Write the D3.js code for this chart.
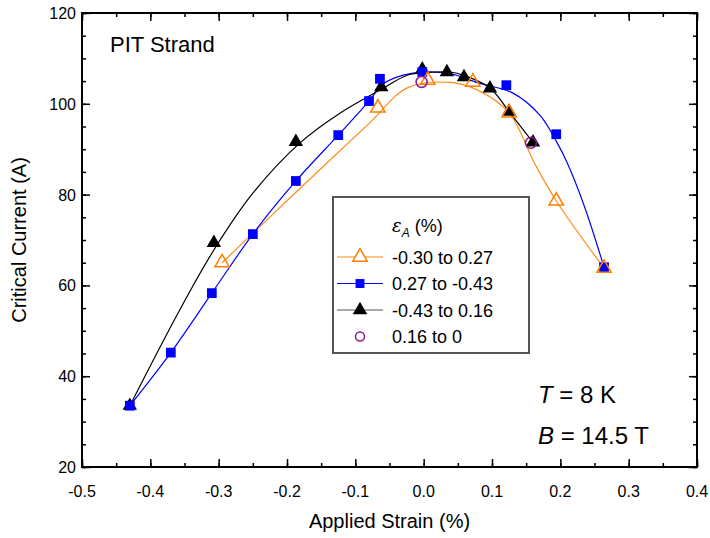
<!DOCTYPE html>
<html>
<head>
<meta charset="utf-8">
<script src="https://cdn.jsdelivr.net/npm/d3@7"></script>
<style>
  body { margin: 0; background: #fff; }
  text { font-family: "Liberation Sans", Arial, sans-serif; fill: #000; }
</style>
</head>
<body>
<div id="chart"></div>
<script>
var orangeX = [-0.295, -0.067, 0.006, 0.072, 0.125, 0.194, 0.264];
var orangeY = [65, 99.1, 105.2, 104.8, 98, 78.6, 63.8];

var blueX = [-0.43, -0.37, -0.31, -0.25, -0.187, -0.125, -0.08, -0.064, -0.002, 0.121, 0.194, 0.264];
var blueY = [33.5, 45.2, 58.3, 71.3, 83, 93.1, 100.6, 105.5, 107, 104.1, 93.3, 64];

var blackX = [-0.43, -0.307, -0.187, -0.062, -0.002, 0.034, 0.059, 0.097, 0.125, 0.16];
var blackY = [33.5, 69.4, 91.6, 103.7, 107.6, 107, 105.9, 103.4, 98.3, 91.5];

var purpleX = [-0.003, 0.157];
var purpleY = [104.8, 91.4];

// fitted curves, also
var orangeFitX = [-0.295, -0.185, -0.079, -0.024, 0.039, 0.082, 0.125, 0.163, 0.194, 0.264];
var orangeFitY = [65, 80.8, 95.8, 103.5, 104.7, 102.8, 98, 86.7, 78.6, 63.8];

var blueFitX = [-0.43, -0.37, -0.31, -0.25, -0.187, -0.125, -0.08, -0.06, -0.03, 0.0, 0.04, 0.08, 0.13, 0.17, 0.195, 0.21, 0.235, 0.264];
var blueFitY = [33.5, 45.2, 58.3, 71.3, 83, 93.1, 100.6, 104.3, 106.3, 107, 106.6, 104.6, 102.4, 97.5, 91.5, 87, 77.5, 64];

var blackFitX = [-0.43, -0.357, -0.307, -0.25, -0.181, -0.122, -0.062, -0.024, 0.0, 0.039, 0.06, 0.097, 0.125, 0.16];
var blackFitY = [33.5, 54.6, 67.8, 80.3, 91.4, 98, 103.2, 106.3, 106.8, 107, 106.2, 103.5, 98.3, 91.5];

var legendLabels = ["-0.30 to 0.27", "0.27 to -0.43", "-0.43 to 0.16", "0.16 to 0"];
var xTicks = [-0.5, -0.4, -0.3, -0.2, -0.1, 0.0, 0.1, 0.2, 0.3, 0.4];
var xTickLabels = ["-0.5", "-0.4", "-0.3", "-0.2", "-0.1", "0.0", "0.1", "0.2", "0.3", "0.4"];
var yTicks = [20, 40, 60, 80, 100, 120];

var svgWidth = 710;
var svgHeight = 538;
var margin = { top: 13, right: 13, bottom: 71, left: 82 };
var width = svgWidth - margin.left - margin.right;
var height = svgHeight - margin.top - margin.bottom;

var svg = d3.select("#chart")
  .append("svg")
  .attr("width", svgWidth)
  .attr("height", svgHeight);

var chartGroup = svg.append("g")
  .attr("transform", `translate(${margin.left}, ${margin.top})`);

var x = d3.scaleLinear().domain([-0.5, 0.4]).range([0, width]);
var y = d3.scaleLinear().domain([20, 120]).range([height, 0]);

// axes: ticks point inward, mirrored on top/right
var xMinor = d3.range(-0.5, 0.4001, 0.05).map(d => +d.toFixed(2));
var yMinor = d3.range(20, 120.1, 5);

function tickStyle(g) {
  g.selectAll("line").attr("stroke", "#000").attr("stroke-width", 1.5);
  g.select(".domain").remove();
}

chartGroup.append("g")
  .attr("transform", `translate(0, ${height})`)
  .call(d3.axisTop(x).tickValues(xMinor).tickSize(4).tickFormat(""))
  .call(tickStyle);
chartGroup.append("g")
  .attr("transform", `translate(0, ${height})`)
  .call(d3.axisTop(x).tickValues(xTicks).tickSize(8).tickFormat(""))
  .call(tickStyle);
chartGroup.append("g")
  .call(d3.axisBottom(x).tickValues(xMinor).tickSize(4).tickFormat(""))
  .call(tickStyle);
chartGroup.append("g")
  .call(d3.axisBottom(x).tickValues(xTicks).tickSize(8).tickFormat(""))
  .call(tickStyle);
chartGroup.append("g")
  .call(d3.axisRight(y).tickValues(yMinor).tickSize(4).tickFormat(""))
  .call(tickStyle);
chartGroup.append("g")
  .call(d3.axisRight(y).tickValues(yTicks).tickSize(8).tickFormat(""))
  .call(tickStyle);
chartGroup.append("g")
  .attr("transform", `translate(${width}, 0)`)
  .call(d3.axisLeft(y).tickValues(yMinor).tickSize(4).tickFormat(""))
  .call(tickStyle);
chartGroup.append("g")
  .attr("transform", `translate(${width}, 0)`)
  .call(d3.axisLeft(y).tickValues(yTicks).tickSize(8).tickFormat(""))
  .call(tickStyle);

// tick labels
chartGroup.selectAll(".xlab")
  .data(xTicks)
  .enter()
  .append("text")
  .attr("x", d => x(d))
  .attr("y", height + 30)
  .attr("text-anchor", "middle")
  .style("font-size", "16px")
  .text((d, i) => xTickLabels[i]);

chartGroup.selectAll(".ylab")
  .data(yTicks)
  .enter()
  .append("text")
  .attr("x", -6)
  .attr("y", d => y(d) + 6)
  .attr("text-anchor", "end")
  .style("font-size", "16px")
  .text(d => d);

// frame
chartGroup.append("rect")
  .attr("width", width)
  .attr("height", height)
  .attr("fill", "none")
  .attr("stroke", "#000")
  .attr("stroke-width", 2);

// fitted curves
var line = d3.line()
  .x(d => x(d[0]))
  .y(d => y(d[1]))
  .curve(d3.curveCatmullRom.alpha(0.5));

var fits = [
  { xs: orangeFitX, ys: orangeFitY, color: "#ff8c1a" },
  { xs: blueFitX, ys: blueFitY, color: "#0000ff" },
  { xs: blackFitX, ys: blackFitY, color: "#000" }
];

fits.forEach(function(f) {
  chartGroup.append("path")
    .datum(d3.zip(f.xs, f.ys))
    .attr("d", line)
    .attr("fill", "none")
    .attr("stroke", f.color)
    .attr("stroke-width", 1.2);
});

// markers
var tri = d3.symbol().type(d3.symbolTriangle).size(90);
var sq = d3.symbol().type(d3.symbolSquare).size(95);

chartGroup.selectAll(".blk")
  .data(d3.zip(blackX, blackY))
  .enter()
  .append("path")
  .attr("d", tri)
  .attr("transform", d => `translate(${x(d[0])}, ${y(d[1])})`)
  .attr("fill", "#000");

chartGroup.selectAll(".blu")
  .data(d3.zip(blueX, blueY))
  .enter()
  .append("path")
  .attr("d", sq)
  .attr("transform", d => `translate(${x(d[0])}, ${y(d[1])})`)
  .attr("fill", "#0000ff");

chartGroup.selectAll(".org")
  .data(d3.zip(orangeX, orangeY))
  .enter()
  .append("path")
  .attr("d", tri)
  .attr("transform", d => `translate(${x(d[0])}, ${y(d[1])})`)
  .attr("fill", "none")
  .attr("stroke", "#ff8000")
  .attr("stroke-width", 1.5);

chartGroup.selectAll(".pur")
  .data(d3.zip(purpleX, purpleY))
  .enter()
  .append("circle")
  .attr("cx", d => x(d[0]))
  .attr("cy", d => y(d[1]))
  .attr("r", 5.5)
  .attr("fill", "none")
  .attr("stroke", "#8b1a8b")
  .attr("stroke-width", 1.5);

// legend
var legend = svg.append("g");
legend.append("rect")
  .attr("x", 333)
  .attr("y", 197)
  .attr("width", 196)
  .attr("height", 156)
  .attr("fill", "#fff")
  .attr("stroke", "#555")
  .attr("stroke-width", 2);

var lt = legend.append("text")
  .attr("x", 392)
  .attr("y", 232)
  .style("font-size", "18px");
lt.append("tspan").style("font-style", "italic").style("font-family", "DejaVu Serif").text("ε");
lt.append("tspan").attr("dy", 5).style("font-style", "italic").style("font-size", "12px").text("A");
lt.append("tspan").attr("dy", -5).text(" (%)");

var legendStyles = [
  { line: "#ff8c1a", kind: "otri" },
  { line: "#0000ff", kind: "sq" },
  { line: "#555", kind: "tri" },
  { line: null, kind: "circ" }
];

legendLabels.forEach(function(lab, i) {
  var yy = 257 + i * 26.5;
  var s = legendStyles[i];
  if (s.line) {
    legend.append("line")
      .attr("x1", 337).attr("x2", 383)
      .attr("y1", yy).attr("y2", yy)
      .attr("stroke", s.line)
      .attr("stroke-width", 1.2);
  }
  if (s.kind == "otri") {
    legend.append("path").attr("d", tri)
      .attr("transform", `translate(360, ${yy})`)
      .attr("fill", "#fff").attr("stroke", "#ff8000").attr("stroke-width", 1.5);
  } else if (s.kind == "sq") {
    legend.append("path").attr("d", d3.symbol().type(d3.symbolSquare).size(80))
      .attr("transform", `translate(360, ${yy})`)
      .attr("fill", "#0000ff");
  } else if (s.kind == "tri") {
    legend.append("path").attr("d", tri)
      .attr("transform", `translate(360, ${yy})`)
      .attr("fill", "#000");
  } else {
    legend.append("circle").attr("cx", 360).attr("cy", yy).attr("r", 4.5)
      .attr("fill", "none").attr("stroke", "#8b1a8b").attr("stroke-width", 1.5);
  }
  legend.append("text")
    .attr("x", 392)
    .attr("y", yy + 6.5)
    .style("font-size", "18px")
    .text(lab);
});

// annotations
svg.append("text")
  .attr("x", 110)
  .attr("y", 52)
  .style("font-size", "22px")
  .text("PIT Strand");

var t1 = svg.append("text").attr("x", 538).attr("y", 403).style("font-size", "24px");
t1.append("tspan").style("font-style", "italic").text("T");
t1.append("tspan").text(" = 8 K");

var t2 = svg.append("text").attr("x", 538).attr("y", 444).style("font-size", "24px");
t2.append("tspan").style("font-style", "italic").text("B");
t2.append("tspan").text(" = 14.5 T");

// axis titles
svg.append("text")
  .attr("transform", `translate(${margin.left + width / 2}, 528)`)
  .attr("text-anchor", "middle")
  .style("font-size", "20px")
  .text("Applied Strain (%)");

svg.append("text")
  .attr("transform", `translate(26, ${margin.top + height / 2}) rotate(-90)`)
  .attr("text-anchor", "middle")
  .style("font-size", "20px")
  .text("Critical Current (A)");
</script>
</body>
</html>
